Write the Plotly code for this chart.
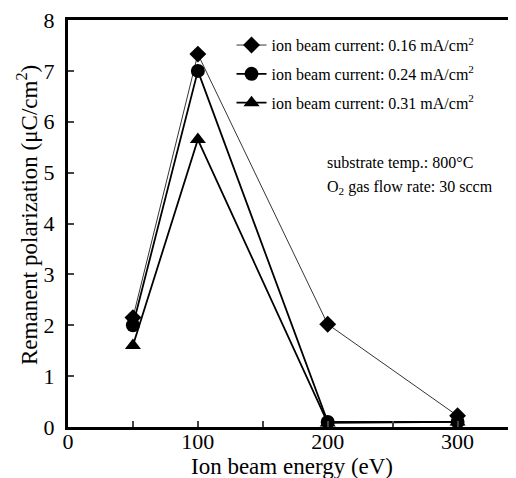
import plotly.graph_objects as go

energy = [50, 100, 200, 300]
p_016 = [2.15, 7.33, 2.02, 0.22]
p_024 = [2.0, 7.0, 0.1, 0.1]
p_031 = [1.6, 5.65, 0.08, 0.1]
labels = ["ion beam current: 0.16 mA/cm<sup>2</sup>",
          "ion beam current: 0.24 mA/cm<sup>2</sup>",
          "ion beam current: 0.31 mA/cm<sup>2</sup>"]

FONT = "Liberation Serif"
# page has an 8px body margin; figure is sized/offset to compensate
OFF = 8
W, H = 516 - OFF, 478 - OFF
L, T, R, B = 68 - OFF, 20 - OFF, 0, 51
W_plot = W - L - R
H_plot = H - T - B

fig = go.Figure()
fig.add_trace(go.Scatter(x=energy, y=p_016, name=labels[0], mode="lines+markers", legendgroup="a",
                         line=dict(color="black", width=0.8),
                         marker=dict(symbol="diamond", size=13, color="black")))
fig.add_trace(go.Scatter(x=energy, y=p_024, name=labels[1], mode="lines+markers", legendgroup="b",
                         line=dict(color="black", width=1.8),
                         marker=dict(symbol="circle", size=14, color="black")))
fig.add_trace(go.Scatter(x=energy, y=p_031, name=labels[2], mode="lines+markers", legendgroup="c",
                         line=dict(color="black", width=1.8),
                         marker=dict(symbol="triangle-up", size=14, color="black")))

fig.update_layout(
    width=W, height=H,
    margin=dict(l=L, r=R, t=T, b=B, autoexpand=False),
    plot_bgcolor="white", paper_bgcolor="white",
    font=dict(family=FONT, color="black"),
    showlegend=True,
    legend=dict(x=0.365, y=0.98, xanchor="left", yanchor="top",
                font=dict(family=FONT, size=16), bgcolor="rgba(0,0,0,0)",
                tracegroupgap=5, itemwidth=30),
    xaxis=dict(range=[0, 345], tickvals=[0, 100, 200, 300], ticks="inside", ticklen=6,
               tickwidth=2, minor=dict(dtick=50, ticks="inside", ticklen=6, tickwidth=2),
               showline=True, linecolor="black", linewidth=3, mirror=True,
               showgrid=False, zeroline=False, automargin=False,
               ticklabelstandoff=-7, ticklabeloverflow="allow",
               tickfont=dict(family=FONT, size=22)),
    yaxis=dict(range=[0, 8], dtick=1, ticks="inside", ticklen=6, tickwidth=2,
               showline=True, linecolor="black", linewidth=3,
               showgrid=False, zeroline=False, automargin=False,
               ticklabelstandoff=6, ticklabeloverflow="allow",
               tickfont=dict(family=FONT, size=22)),
)
fig.add_annotation(text="Ion beam energy (eV)", x=(292 - 68) / W_plot, y=-(466 - 427) / H_plot,
                   xref="paper", yref="paper", xanchor="center", yanchor="middle",
                   showarrow=False, font=dict(family=FONT, size=23))
fig.add_annotation(text="Remanent polarization (μC/cm<sup>2</sup>)",
                   x=-(68 - 27) / W_plot, y=(427 - 215) / H_plot, xref="paper", yref="paper",
                   xanchor="center", yanchor="middle", textangle=-90, showarrow=False,
                   font=dict(family=FONT, size=23))
fig.add_annotation(text="substrate temp.: 800°C", x=(325 - 68) / W_plot, y=(427 - 163) / H_plot,
                   xref="paper", yref="paper", xanchor="left", yanchor="middle",
                   showarrow=False, font=dict(family=FONT, size=16))
fig.add_annotation(text="O<sub>2</sub> gas flow rate: 30 sccm", x=(325 - 68) / W_plot,
                   y=(427 - 187) / H_plot, xref="paper", yref="paper", xanchor="left",
                   yanchor="middle", showarrow=False, font=dict(family=FONT, size=16))
fig.write_html("out.html")
